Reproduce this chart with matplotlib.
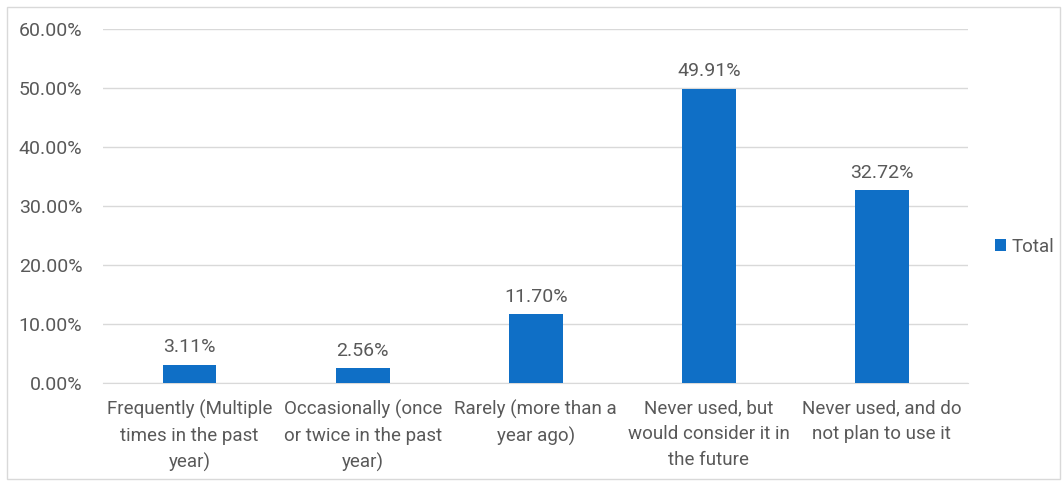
import matplotlib.pyplot as plt
from matplotlib.patches import Rectangle
from matplotlib.ticker import FuncFormatter

categories = [
    "Frequently (Multiple\ntimes in the past\nyear)",
    "Occasionally (once\nor twice in the past\nyear)",
    "Rarely (more than a\nyear ago)",
    "Never used, but\nwould consider it in\nthe future",
    "Never used, and do\nnot plan to use it",
]
totals = [3.11, 2.56, 11.70, 49.91, 32.72]
value_labels = ["3.11%", "2.56%", "11.70%", "49.91%", "32.72%"]
yticks = [0, 10, 20, 30, 40, 50, 60]

bar_color = "#0F6FC6"
text_color = "#595959"
grid_color = "#D9D9D9"

plt.rcParams['font.family'] = ['Roboto', 'DejaVu Sans']

fig = plt.figure(figsize=(10.63, 4.83), dpi=100)
ax = fig.add_axes([0.097, 0.207, 0.814, 0.733])

x = range(len(categories))
bars = ax.bar(x, totals, width=0.31, color=bar_color, label="Total", zorder=3)

for rect, lbl in zip(bars, value_labels):
    ax.annotate(lbl, (rect.get_x() + rect.get_width() / 2, rect.get_height()),
                xytext=(0, 6), textcoords="offset points", ha="center", va="bottom",
                fontsize=14, color=text_color)

ax.set_xlim(-0.5, len(categories) - 0.5)
ax.set_ylim(0, 60)
ax.set_yticks(yticks)
ax.yaxis.set_major_formatter(FuncFormatter(lambda v, p: f"{v:.2f}%"))
ax.set_xticks(list(x))
ax.set_xticklabels(categories, linespacing=1.55, fontsize=13.5)

ax.grid(axis="y", color=grid_color, linewidth=1, zorder=0)
for side in ["top", "right", "left"]:
    ax.spines[side].set_visible(False)
ax.spines["bottom"].set_color(grid_color)
ax.tick_params(axis="both", length=0, colors=text_color)
ax.tick_params(axis="y", labelsize=14, pad=15)
ax.tick_params(axis="x", pad=12)

leg = fig.legend(handles=[bars], labels=["Total"], loc="center left",
                 bbox_to_anchor=(0.936, 0.489), frameon=False, fontsize=13.5,
                 borderpad=0, borderaxespad=0, handlelength=0.6, handleheight=0.6,
                 handletextpad=0.3)
for t in leg.get_texts():
    t.set_color(text_color)

# thin chart-area border
fig.patches.append(Rectangle((0.007, 0.008), 0.99, 0.977, transform=fig.transFigure,
                             fill=False, edgecolor="#D9D9D9", linewidth=1))

fig.savefig("out.png", dpi=100)
